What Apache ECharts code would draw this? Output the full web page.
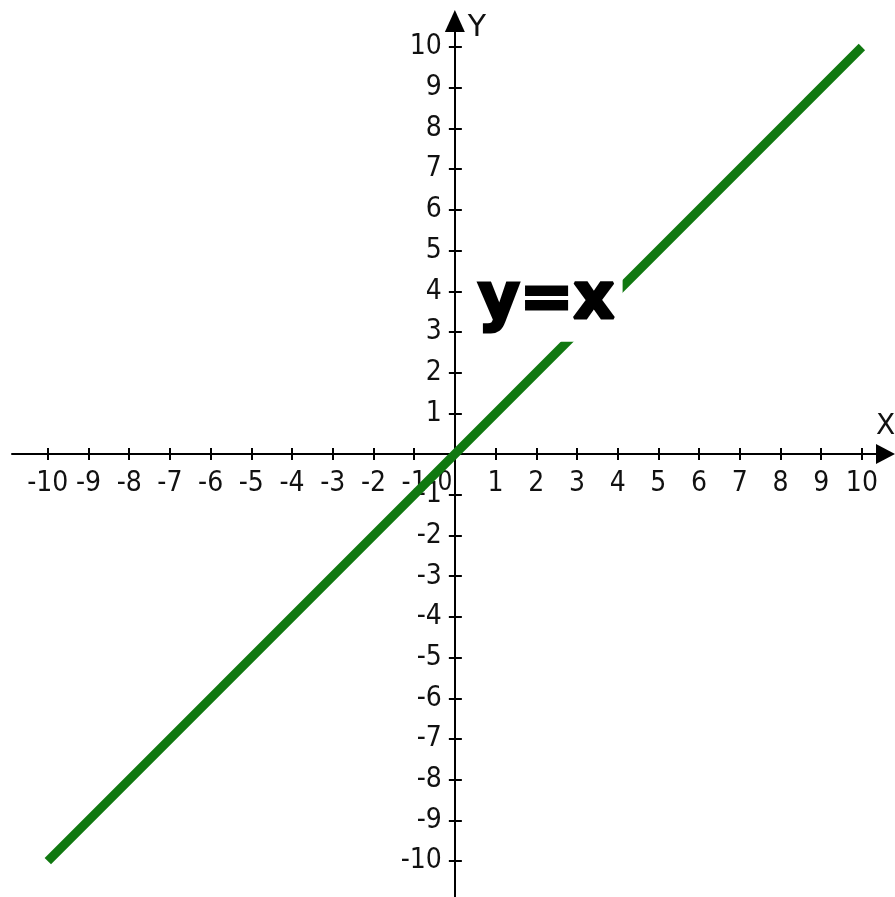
<!DOCTYPE html>
<html>
<head>
<meta charset="utf-8">
<script src="https://cdn.jsdelivr.net/npm/echarts@6/dist/echarts.min.js"></script>
<style>
  html, body { margin: 0; padding: 0; background: #ffffff; }
  #chart { width: 895px; height: 897px; }
</style>
</head>
<body>
<div id="chart"></div>
<script>
// Graph of y = x on a cartesian plane from -10 to 10
const lineX = [-10, 10];
const lineY = [-10, 10];
const tickValues = [-10, -9, -8, -7, -6, -5, -4, -3, -2, -1, 0, 1, 2, 3, 4, 5, 6, 7, 8, 9, 10];
const xLabelValues = [-10, -9, -8, -7, -6, -5, -4, -3, -2, -1, 0, 1, 2, 3, 4, 5, 6, 7, 8, 9, 10];
const yLabelValues = [-10, -9, -8, -7, -6, -5, -4, -3, -2, -1, 1, 2, 3, 4, 5, 6, 7, 8, 9, 10];
const equationText = 'y=x';
const equationAnchor = [0.47, 3.74];
const xRange = [-10.88, 10.58];
const yRange = [-10.88, 10.64];

// plot frame (pixels)
const W = 895, H = 897;
const frame = { left: 12, right: 9.5, top: 21, bottom: 0 };
const plotW = W - frame.left - frame.right;
const plotH = H - frame.top - frame.bottom;
// pixel position of the origin, so the axis strips meet at (0, 0)
const originX = frame.left + plotW * (0 - xRange[0]) / (xRange[1] - xRange[0]);
const originY = frame.top + plotH * (yRange[1] - 0) / (yRange[1] - yRange[0]);

const axisFont = '"Liberation Sans Narrow", "DejaVu Sans Condensed", sans-serif';
const nameFont = '"DejaVu Sans", sans-serif';
const ink = '#111111';
const black = '#000000';

function hiddenAxis(gridIndex, range) {
  return { type: 'value', gridIndex: gridIndex, show: false, min: range[0], max: range[1] };
}

function tickAxis(gridIndex, range, position, inside, length) {
  return {
    type: 'value', gridIndex: gridIndex, min: range[0], max: range[1], position: position,
    splitLine: { show: false },
    axisLine: { show: false, onZero: false },
    axisTick: { show: true, inside: inside, customValues: tickValues, length: length,
                lineStyle: { color: black, width: 2 } },
    axisLabel: { show: false }
  };
}

const chart = echarts.init(document.getElementById('chart'), null, { renderer: 'canvas' });

const xAxisMain = {
  type: 'value', gridIndex: 1, min: xRange[0], max: xRange[1], position: 'bottom',
  splitLine: { show: false },
  axisLine: { show: true, onZero: false, symbol: ['none', 'triangle'], symbolSize: [20, 19],
              lineStyle: { color: black, width: 2 } },
  axisTick: { show: true, customValues: tickValues, length: 6, lineStyle: { color: black, width: 2 } },
  axisLabel: {
    show: true, customValues: xLabelValues, margin: 16,
    fontFamily: axisFont, fontSize: 28, color: ink,
    formatter: function (v) { return v === 0 ? '{z|0}' : String(v); },
    rich: { z: { fontFamily: axisFont, fontSize: 26, color: ink, padding: [0, 20, 6, 0] } }
  },
  name: 'X', nameLocation: 'end', nameGap: 0,
  nameTextStyle: { fontFamily: nameFont, fontSize: 28, color: ink,
                   align: 'center', verticalAlign: 'bottom', padding: [0, 0, 13, 0] }
};

const yAxisMain = {
  type: 'value', gridIndex: 2, min: yRange[0], max: yRange[1], position: 'left',
  splitLine: { show: false },
  axisLine: { show: true, onZero: false, symbol: ['none', 'triangle'], symbolSize: [20, 22],
              lineStyle: { color: black, width: 2 } },
  axisTick: { show: true, customValues: tickValues, length: 6, lineStyle: { color: black, width: 2 } },
  axisLabel: { show: true, customValues: yLabelValues, margin: 13,
               fontFamily: axisFont, fontSize: 28, color: ink },
  name: 'Y', nameLocation: 'end', nameGap: 8,
  nameTextStyle: { fontFamily: nameFont, fontSize: 30, color: ink,
                   align: 'left', verticalAlign: 'top', padding: [0, 0, 0, 13] }
};

chart.setOption({
  animation: false,
  backgroundColor: '#ffffff',
  grid: [
    // plotting area
    { left: frame.left, right: frame.right, top: frame.top, bottom: frame.bottom,
      containLabel: false, outerBoundsMode: 'none' },
    // horizontal axis strip, bottom edge on y = 0
    { left: frame.left, right: frame.right, top: frame.top, height: originY - frame.top,
      containLabel: false, outerBoundsMode: 'none' },
    // vertical axis strip, left edge on x = 0
    { left: originX, right: frame.right, top: frame.top, bottom: frame.bottom,
      containLabel: false, outerBoundsMode: 'none' }
  ],
  xAxis: [
    hiddenAxis(0, xRange),
    xAxisMain,
    tickAxis(1, xRange, 'bottom', true, 6),
    hiddenAxis(2, [0, 1])
  ],
  yAxis: [
    hiddenAxis(0, yRange),
    hiddenAxis(1, [0, 1]),
    yAxisMain,
    tickAxis(2, yRange, 'left', true, 7)
  ],
  series: [
    {
      type: 'line',
      name: equationText,
      xAxisIndex: 0,
      yAxisIndex: 0,
      z: 3,
      showSymbol: false,
      symbol: 'none',
      data: lineX.map(function (x, i) { return [x, lineY[i]]; }),
      lineStyle: { color: '#107810', width: 9, cap: 'butt' }
    },
    {
      type: 'scatter',
      xAxisIndex: 0,
      yAxisIndex: 0,
      z: 6,
      symbolSize: 0,
      silent: true,
      itemStyle: { opacity: 1 },
      data: [equationAnchor],
      label: {
        show: true,
        position: [0, 0],
        align: 'left',
        verticalAlign: 'middle',
        formatter: equationText,
        fontFamily: '"DejaVu Sans", sans-serif',
        fontWeight: 'bold',
        fontSize: 64,
        color: black,
        opacity: 1,
        textBorderColor: black,
        textBorderWidth: 3,
        backgroundColor: '#ffffff',
        padding: [0, 8, 16, 4]
      }
    }
  ]
});
</script>
</body>
</html>
